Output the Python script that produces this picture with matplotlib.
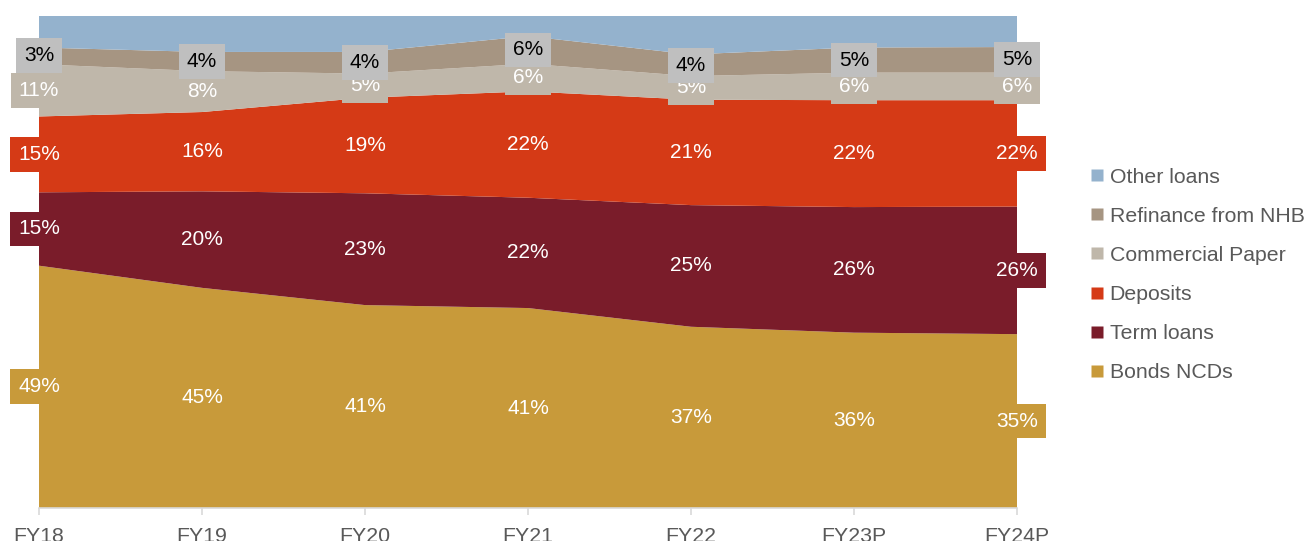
import matplotlib
matplotlib.use("Agg")
import matplotlib.pyplot as plt
from matplotlib.lines import Line2D
import numpy as np

plt.rcParams['font.family'] = ['Liberation Sans', 'DejaVu Sans']

categories = ["FY18", "FY19", "FY20", "FY21", "FY22", "FY23P", "FY24P"]
bonds_ncds = [49.2, 44.7, 41.2, 40.6, 36.8, 35.6, 35.3]
term_loans = [14.9, 19.6, 22.7, 22.4, 24.7, 25.5, 25.9]
deposits = [15.4, 16.1, 19.4, 21.6, 21.4, 21.7, 21.6]
commercial_paper = [10.6, 8.3, 4.9, 5.6, 4.8, 5.6, 5.6]
refinance_nhb = [3.4, 3.9, 4.4, 5.6, 4.4, 5.1, 5.2]
other_loans = [6.5, 7.4, 7.4, 4.2, 7.9, 6.5, 6.4]

series_names = ["Bonds NCDs", "Term loans", "Deposits", "Commercial Paper",
                "Refinance from NHB", "Other loans"]
series = [bonds_ncds, term_loans, deposits, commercial_paper, refinance_nhb, other_loans]
colors = ["#C89A3A", "#7A1C2A", "#D53A16", "#BFB7AA", "#A69582", "#94B2CD"]
label_box = ["#C89A3A", "#7A1C2A", "#D53A16", "#BFB7AA", "#BFBFBF", None]
label_txt = ["white", "white", "white", "white", "black", None]

W, H = 1304, 541
fig = plt.figure(figsize=(W / 100, H / 100), dpi=100)
ax = fig.add_axes([39 / W, 1 - 508 / H, (1017 - 39) / W, (508 - 15.5) / H])

x = np.arange(len(categories))
ax.stackplot(x, *series, colors=colors, linewidth=0)
ax.set_xlim(0, len(categories) - 1)
ax.set_ylim(0, 100)

# data labels
cum = np.zeros(len(categories))
for i, s in enumerate(series):
    s = np.array(s, dtype=float)
    if label_box[i] is not None:
        for j in range(len(categories)):
            yc = cum[j] + s[j] / 2
            ax.text(x[j], yc, f"{int(round(s[j]))}%", ha='center', va='center',
                    fontsize=15, color=label_txt[i], clip_on=False, zorder=5,
                    bbox=dict(boxstyle='square,pad=0.38', fc=label_box[i], ec='none'))
    cum += s

for sp in ['top', 'right', 'left']:
    ax.spines[sp].set_visible(False)
ax.spines['bottom'].set_color('#D9D9D9')
ax.spines['bottom'].set_linewidth(1.2)
ax.set_yticks([])
ax.set_xticks(x)
ax.set_xticklabels(categories, fontsize=15.3, color='#595959')
ax.tick_params(axis='x', length=5, width=1.2, color='#D9D9D9', pad=9)

handles = [Line2D([0], [0], marker='s', linestyle='none', markersize=8,
                  markerfacecolor=colors[i], markeredgecolor='none')
           for i in range(len(series) - 1, -1, -1)]
labels = [series_names[i] for i in range(len(series) - 1, -1, -1)]
fig.legend(handles, labels, loc='center left', bbox_to_anchor=(1082 / W, 1 - 275 / H),
           frameon=False, fontsize=15.3, labelcolor='#595959', handlelength=0.6,
           handletextpad=0.3, labelspacing=0.95, borderaxespad=0)

fig.savefig("out.png", dpi=100)
